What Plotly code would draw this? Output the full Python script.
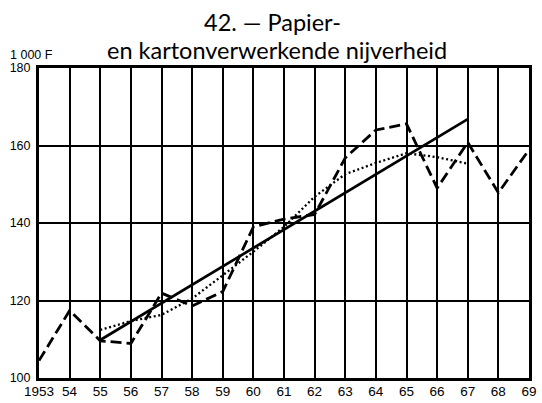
import plotly.graph_objects as go

# Index series, 1953-1969 (1 000 F)
years = list(range(1953, 1970))
actual = [104.5, 117.4, 109.6, 108.9, 121.9, 118.6, 122.3, 139.0, 141.0,
          142.2, 156.8, 164.0, 165.6, 149.0, 160.8, 147.8, 158.9]

# Smoothed series (moving average), 1955-1967
smooth_years = list(range(1955, 1968))
smooth = [112.4, 114.7, 116.3, 120.5, 126.5, 132.6, 139.0, 146.8,
          152.6, 155.5, 158.0, 157.0, 155.3]

# Linear trend, 1955-1967
trend_years = [1955, 1967]
trend = [109.8, 166.8]

tick_labels = ["1953"] + [str(y)[2:] for y in years[1:]]
y_ticks = [100, 120, 140, 160, 180]

fig = go.Figure()
fig.add_trace(go.Scatter(x=years, y=actual, mode="lines",
                         line=dict(color="black", width=2.8, dash="11px,5px")))
fig.add_trace(go.Scatter(x=smooth_years, y=smooth, mode="lines",
                         line=dict(color="black", width=2.3, dash="2px,2.6px")))
fig.add_trace(go.Scatter(x=trend_years, y=trend, mode="lines",
                         line=dict(color="black", width=2.7)))

fig.update_layout(
    width=542, height=403,
    margin=dict(l=39, r=13, t=68, b=25),
    paper_bgcolor="white", plot_bgcolor="white",
    showlegend=False,
    font=dict(family="Liberation Sans, Arial", color="black"),
    xaxis=dict(range=[1953, 1969], tickvals=years, ticktext=tick_labels,
               showgrid=True, gridcolor="black", gridwidth=1.6,
               showline=True, linecolor="black", linewidth=2.6, mirror=True,
               zeroline=False, ticks="", tickfont=dict(size=13.5),
               ticklabelstandoff=-1, automargin=False),
    yaxis=dict(range=[100, 180], tickvals=y_ticks,
               showgrid=True, gridcolor="black", gridwidth=1.6,
               showline=True, linecolor="black", linewidth=3, mirror=True,
               zeroline=False, ticks="", tickfont=dict(size=12.5),
               ticklabelstandoff=3, automargin=False),
    annotations=[
        dict(text="42. — Papier-", xref="paper", yref="paper",
             x=(202 - 39) / 490, y=(378 - 22) / 310, xanchor="left",
             yanchor="middle", showarrow=False,
             font=dict(family="Lato", size=23.5)),
        dict(text="en kartonverwerkende nijverheid", xref="paper", yref="paper",
             x=(105 - 39) / 490, y=(378 - 50) / 310, xanchor="left",
             yanchor="middle", showarrow=False,
             font=dict(family="Lato", size=23.5)),
        dict(text="1 000 F", xref="paper", yref="paper",
             x=(8 - 39) / 490, y=(378 - 55) / 310, xanchor="left",
             yanchor="middle", showarrow=False,
             font=dict(family="Liberation Sans, Arial", size=12.5)),
    ],
)

fig.write_html("out.html")
